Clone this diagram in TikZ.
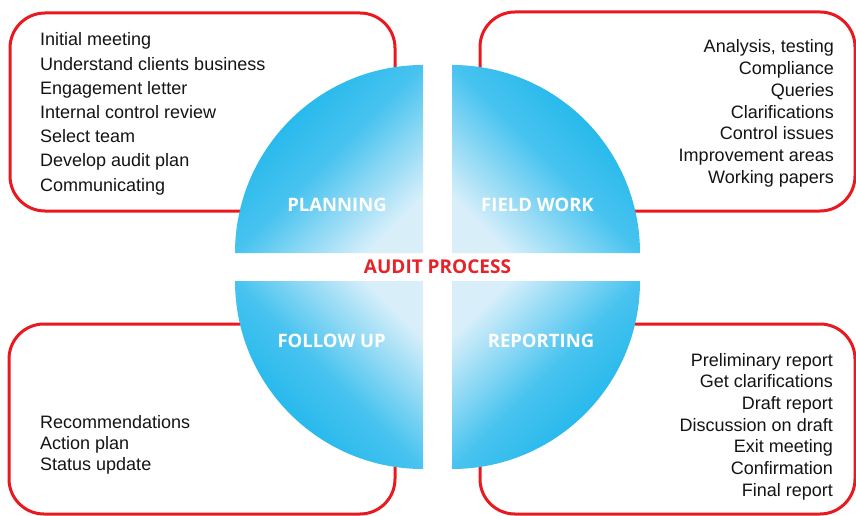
\documentclass[tikz,border=0pt]{standalone}
\usepackage{fontspec}
\setmainfont{Liberation Sans}
\newfontfamily\labfont{Open Sans}
\definecolor{boxred}{HTML}{E8191F}
\definecolor{titlered}{HTML}{E52329}
\definecolor{qdark}{HTML}{12B3EA}
\definecolor{qmid}{HTML}{48C3EF}
\definecolor{qlight}{HTML}{D8EFFA}
\begin{document}
\begin{tikzpicture}[x=1pt,y=1pt,
  redbox/.style={draw=boxred, line width=3pt, rounded corners=35pt},
  item/.style={font=\fontsize{18}{22}\selectfont, text=black!92, inner sep=0pt},
  phase/.style={font=\labfont\bfseries\fontsize{18.5}{20}\selectfont, text=white, inner sep=0pt},
  quad/.style={top color=qdark, bottom color=qlight, middle color=qmid}
]
\useasboundingbox (0,0) rectangle (856,515);
\fill[white] (0,0) rectangle (856,515);

% red rounded boxes
\draw[redbox] (10,304) rectangle (395,502);
\draw[redbox] (480,304) rectangle (855,503);
\draw[redbox] (9,1) rectangle (395,191);
\draw[redbox] (480,1) rectangle (855,191);

% quadrants
\shade[quad, shading angle=45] (423,262) -- (235,262) arc[start angle=180,end angle=90,radius=188] -- cycle;
\shade[quad, shading angle=-45] (452,262) -- (452,450) arc[start angle=90,end angle=0,radius=188] -- cycle;
\shade[quad, shading angle=135] (423,234) -- (235,234) arc[start angle=180,end angle=270,radius=188] -- cycle;
\shade[quad, shading angle=-135] (452,234) -- (640,234) arc[start angle=0,end angle=-90,radius=188] -- cycle;

% phase labels
\node[phase] (planning) at (337,310) {PLANNING};
\node[phase] (fieldwork) at (537.5,310) {FIELD WORK};
\node[phase] (followup) at (331.7,174) {FOLLOW UP};
\node[phase] (reporting) at (541,174) {REPORTING};
\node[font=\labfont\bfseries\fontsize{19}{21}\selectfont, text=titlered, inner sep=0pt] (title) at (437.5,248.3) {AUDIT PROCESS};

% lists
\foreach \t [count=\i] in {Initial meeting, Understand clients business, Engagement letter, Internal control review, Select team, Develop audit plan, Communicating}
  \node[item, anchor=base west] (pl\i) at (40, {469-(\i-1)*24.17}) {\t};
\foreach \t [count=\i] in {{Analysis, testing}, Compliance, Queries, Clarifications, Control issues, Improvement areas, Working papers}
  \node[item, anchor=base east] (fw\i) at (834, {462-(\i-1)*21.67}) {\t};
\foreach \t [count=\i] in {Recommendations, Action plan, Status update}
  \node[item, anchor=base west] (fu\i) at (40, {87-(\i-1)*21}) {\t};
\foreach \t [count=\i] in {Preliminary report, Get clarifications, Draft report, Discussion on draft, Exit meeting, Confirmation, Final report}
  \node[item, anchor=base east] (rp\i) at (833, {149-(\i-1)*21.67}) {\t};
\end{tikzpicture}
\end{document}
